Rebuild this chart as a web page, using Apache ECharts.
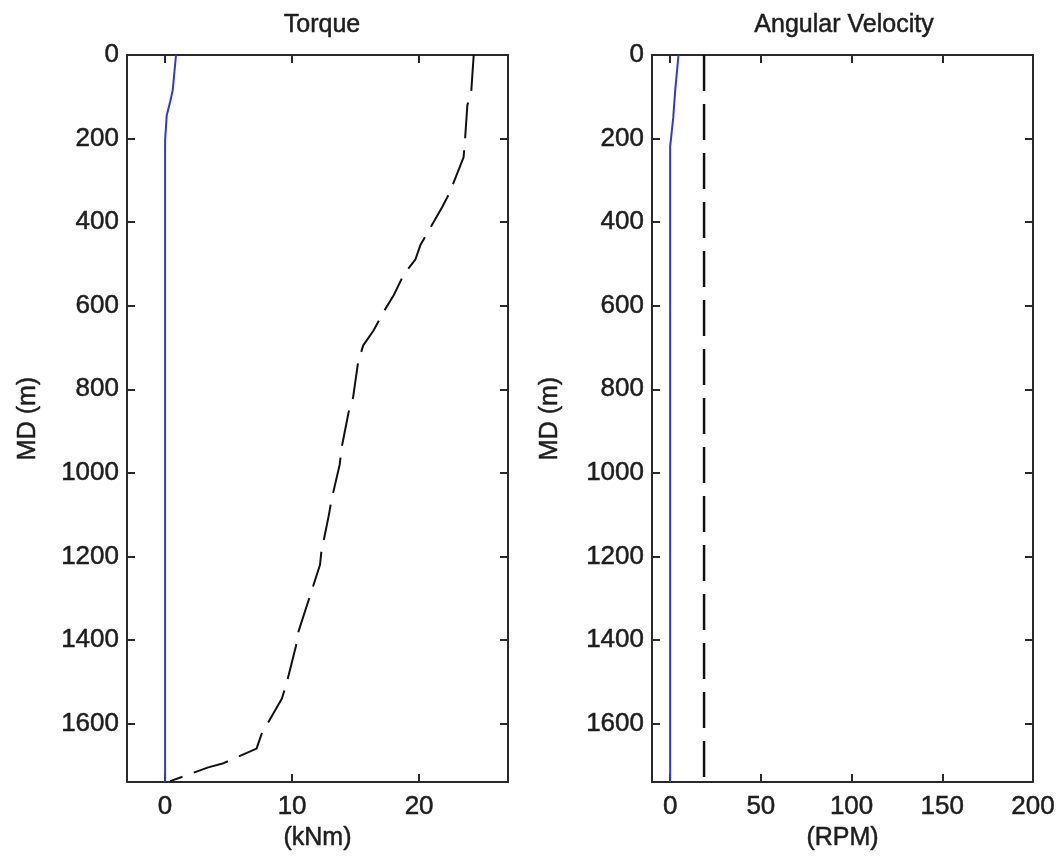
<!DOCTYPE html>
<html>
<head>
<meta charset="utf-8">
<script src="https://cdn.jsdelivr.net/npm/echarts@6/dist/echarts.min.js"></script>
<style>
  html, body { margin: 0; padding: 0; background: #ffffff; }
  #chart { width: 1059px; height: 860px; }
</style>
</head>
<body>
<div id="chart"></div>
<script>
// ---- data ----
var depthTicks = [0, 200, 400, 600, 800, 1000, 1200, 1400, 1600];
var torqueTicks = [0, 10, 20];
var rpmTicks = [0, 50, 100, 150, 200];

var torqueDashedDepth = [0, 90, 120, 210, 245, 330, 365, 455, 490, 525, 575, 610, 660, 695, 735, 820, 855, 940, 980, 1065, 1100, 1190, 1220, 1380, 1415, 1500, 1540, 1625, 1660, 1695, 1705, 1738];
var torqueDashed = [24.3, 24.1, 23.8, 23.6, 23.5, 22.4, 21.8, 20.1, 19.7, 18.8, 18.0, 17.3, 16.4, 15.6, 15.2, 14.8, 14.45, 13.9, 13.75, 13.1, 12.9, 12.3, 12.2, 10.5, 10.3, 9.6, 9.2, 7.6, 7.2, 4.6, 3.4, 0.4];

var torqueSolidDepth = [0, 84, 112, 144, 204, 1740];
var torqueSolid = [0.86, 0.6, 0.4, 0.13, 0, 0];

var rpmSolidDepth = [0, 84, 150, 220, 1740];
var rpmSolid = [4.6, 2.8, 1.7, 0, 0];

var rpmDashedDepth = [0, 1740];
var rpmDashed = [18.7, 18.7];

// ---- helpers ----
function pairs(xs, ys) {
  var out = [];
  for (var i = 0; i < xs.length; i++) out.push([xs[i], ys[i]]);
  return out;
}
function plain(v) { return String(v); }

var FONT = '"Liberation Sans", Arial, sans-serif';
var TXT = '#1e1e1e';
var AX = '#2a2a2a';
var BLUE = '#3838c8';
var DEPTH_MAX = 1740;

function textStyle(size) {
  return { fontFamily: FONT, fontSize: size, color: TXT, textBorderColor: TXT, textBorderWidth: 0.5 };
}
function axisLineStyle() { return { show: true, onZero: false, lineStyle: { color: AX, width: 2 } }; }
function tickStyle(ticks) {
  return { show: true, inside: true, length: 8, customValues: ticks, lineStyle: { color: AX, width: 2 } };
}

function xAxes(gridIndex, min, max, ticks, name) {
  var lab = textStyle(26);
  lab.show = true; lab.customValues = ticks; lab.formatter = plain; lab.margin = 12;
  var bottom = {
    type: 'value', gridIndex: gridIndex, position: 'bottom', min: min, max: max,
    axisLine: axisLineStyle(),
    axisTick: tickStyle(ticks),
    axisLabel: lab,
    splitLine: { show: false },
    name: name, nameLocation: 'middle', nameGap: 41,
    nameTextStyle: textStyle(25)
  };
  var top = {
    type: 'value', gridIndex: gridIndex, position: 'top', min: min, max: max,
    axisLine: axisLineStyle(),
    axisTick: tickStyle(ticks),
    axisLabel: { show: false },
    splitLine: { show: false }
  };
  return [bottom, top];
}

function yAxes(gridIndex, nameGap) {
  var lab = textStyle(26);
  lab.show = true; lab.customValues = depthTicks; lab.formatter = plain; lab.margin = 8;
  var left = {
    type: 'value', gridIndex: gridIndex, position: 'left', inverse: true, min: 0, max: DEPTH_MAX,
    axisLine: axisLineStyle(),
    axisTick: tickStyle(depthTicks),
    axisLabel: lab,
    splitLine: { show: false },
    name: 'MD (m)', nameLocation: 'middle', nameGap: nameGap, nameRotate: 90,
    nameTextStyle: textStyle(25)
  };
  var right = {
    type: 'value', gridIndex: gridIndex, position: 'right', inverse: true, min: 0, max: DEPTH_MAX,
    axisLine: axisLineStyle(),
    axisTick: tickStyle(depthTicks),
    axisLabel: { show: false },
    splitLine: { show: false }
  };
  return [left, right];
}

var xa = xAxes(0, -3, 27, torqueTicks, '(kNm)').concat(xAxes(1, -10, 200, rpmTicks, '(RPM)'));
var ya = yAxes(0, 86).concat(yAxes(1, 89));

var titleStyle = textStyle(25); titleStyle.fontWeight = 'normal';

var option = {
  animation: false,
  backgroundColor: '#ffffff',
  title: [
    { text: 'Torque', left: 317, top: 8, textAlign: 'center', textStyle: titleStyle },
    { text: 'Angular Velocity', left: 839, top: 8, textAlign: 'center', textStyle: titleStyle }
  ],
  grid: [
    { left: 127, top: 55, width: 381, height: 727, containLabel: false },
    { left: 652, top: 55, width: 381, height: 727, containLabel: false }
  ],
  xAxis: xa,
  yAxis: ya,
  series: [
    { type: 'line', xAxisIndex: 0, yAxisIndex: 0, data: pairs(torqueSolid, torqueSolidDepth),
      showSymbol: false, symbol: 'none', lineStyle: { color: BLUE, width: 2 } },
    { type: 'line', xAxisIndex: 0, yAxisIndex: 0, data: pairs(torqueDashed, torqueDashedDepth),
      showSymbol: false, symbol: 'none', lineStyle: { color: '#111111', width: 2, type: [36, 12] } },
    { type: 'line', xAxisIndex: 2, yAxisIndex: 2, data: pairs(rpmSolid, rpmSolidDepth),
      showSymbol: false, symbol: 'none', lineStyle: { color: BLUE, width: 2 } },
    { type: 'line', xAxisIndex: 2, yAxisIndex: 2, data: pairs(rpmDashed, rpmDashedDepth),
      showSymbol: false, symbol: 'none', lineStyle: { color: '#111111', width: 2.5, type: [36, 13] } }
  ]
};

var chart = echarts.init(document.getElementById('chart'), null, { renderer: 'canvas' });
chart.setOption(option);
</script>
</body>
</html>
